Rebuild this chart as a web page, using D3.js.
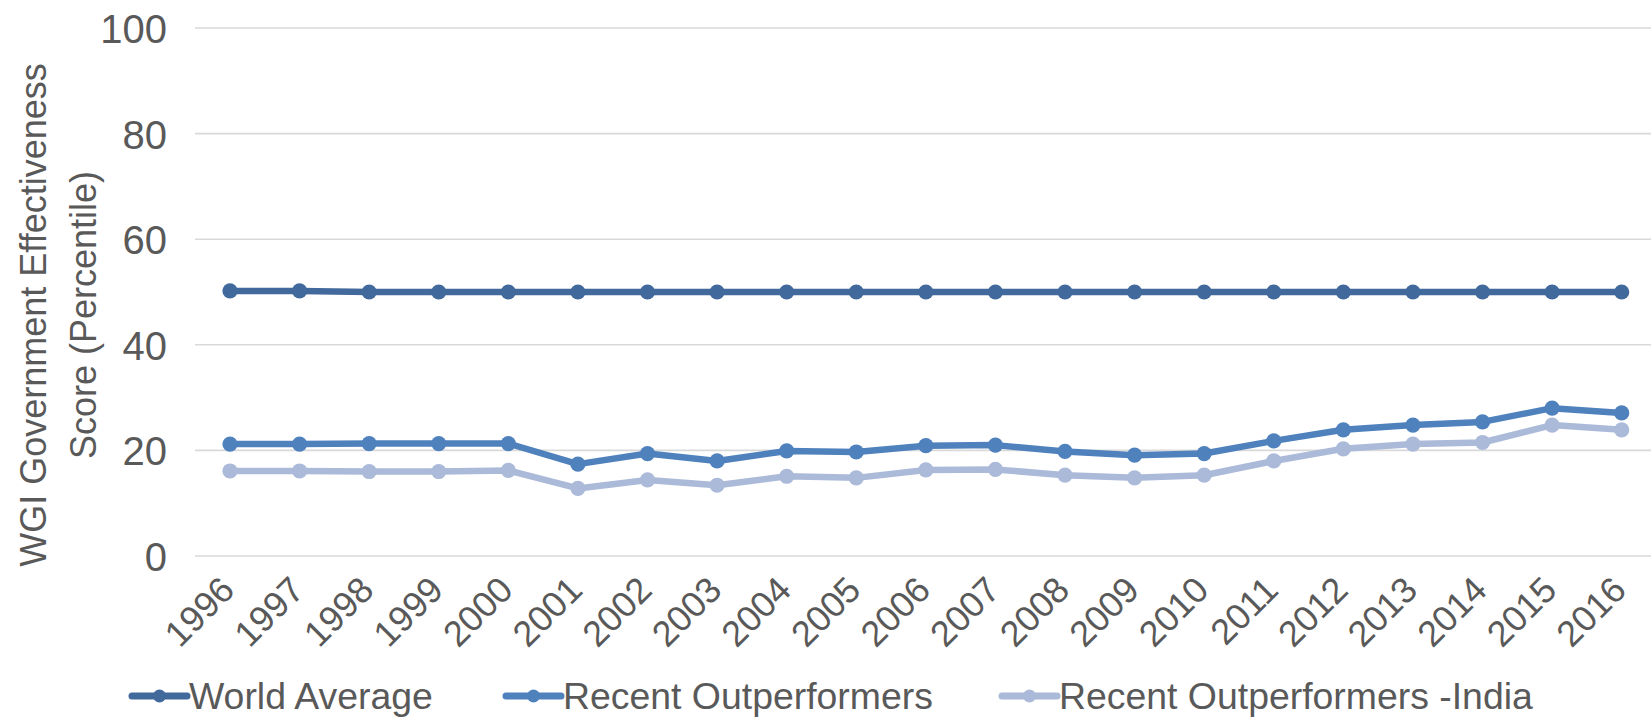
<!DOCTYPE html>
<html>
<head>
<meta charset="utf-8">
<script src="https://cdn.jsdelivr.net/npm/d3@7"></script>
<style>
  html, body { margin: 0; padding: 0; background: #fff; }
  svg { display: block; font-family: "Liberation Sans", Arial, sans-serif; }
</style>
</head>
<body>
<svg id="chart" width="1651" height="717"></svg>
<script>
const years = ["1996","1997","1998","1999","2000","2001","2002","2003","2004","2005","2006","2007","2008","2009","2010","2011","2012","2013","2014","2015","2016"];
const worldAverage = [50.2,50.2,50.0,50.0,50.0,50.0,50.0,50.0,50.0,50.0,50.0,50.0,50.0,50.0,50.0,50.0,50.0,50.0,50.0,50.0,50.0];
const recentOutperformers = [21.2,21.2,21.3,21.3,21.3,17.4,19.4,18.0,19.9,19.7,20.9,21.0,19.8,19.1,19.4,21.8,23.9,24.8,25.4,28.0,27.1];
const recentOutperformersIndia = [16.1,16.1,16.0,16.0,16.2,12.8,14.4,13.4,15.1,14.8,16.3,16.4,15.3,14.8,15.3,18.0,20.3,21.2,21.5,24.8,23.9];
const yTicks = [0,20,40,60,80,100];
const seriesNames = ["World Average","Recent Outperformers","Recent Outperformers -India"];
const yTitleLines = ["WGI Government Effectiveness","Score (Percentile)"];

const series = [
  {name: seriesNames[0], values: worldAverage, color: "#41699c"},
  {name: seriesNames[1], values: recentOutperformers, color: "#4f81bd"},
  {name: seriesNames[2], values: recentOutperformersIndia, color: "#aabad8"}
];

const svg = d3.select("#chart");
const textColor = "#595959";

const x = d3.scalePoint().domain(years).range([230, 1621.7]);
const y = d3.scaleLinear().domain([0, 100]).range([556, 28]);
const gridLeft = 195, gridRight = 1651;

// gridlines
svg.append("g").selectAll("line").data(yTicks).join("line")
  .attr("x1", gridLeft).attr("x2", gridRight)
  .attr("y1", d => y(d)).attr("y2", d => y(d))
  .attr("stroke", "#d9d9d9").attr("stroke-width", 1.6);

// y axis labels
const yAxis = d3.axisLeft(y).tickValues(yTicks).tickSize(0).tickPadding(0);
const gy = svg.append("g").attr("transform", `translate(167,0)`).call(yAxis);
gy.select(".domain").remove();
gy.selectAll("text").attr("fill", textColor).style("font-size", "40px")
  .attr("font-family", "Liberation Sans, Arial, sans-serif").attr("dy", "0.36em");

// x axis labels
const xAxis = d3.axisBottom(x).tickSize(0).tickPadding(0);
const gx = svg.append("g").attr("transform", `translate(0,556)`).call(xAxis);
gx.select(".domain").remove();
gx.selectAll("text")
  .attr("fill", textColor).style("font-size", "36px")
  .attr("font-family", "Liberation Sans, Arial, sans-serif")
  .attr("text-anchor", "end")
  .attr("y", 0).attr("dy", 0)
  .attr("transform", "translate(6,36) rotate(-45)");

// y title
const yt = svg.append("text")
  .attr("transform", `translate(0,315) rotate(-90)`)
  .attr("text-anchor", "middle").attr("fill", textColor)
  .style("font-size", "36px");
yt.selectAll("tspan").data(yTitleLines).join("tspan")
  .attr("x", 0).attr("y", (d, i) => 46 + i * 50)
  .text(d => d);

// lines
const line = d3.line().x((d, i) => x(years[i])).y(d => y(d));
const sg = svg.append("g").selectAll("g").data(series).join("g");
sg.append("path")
  .attr("d", d => line(d.values))
  .attr("fill", "none").attr("stroke", d => d.color)
  .attr("stroke-width", 6.5).attr("stroke-linejoin", "round").attr("stroke-linecap", "round");
sg.selectAll("circle").data(d => d.values.map((v, i) => ({v, i, c: d.color}))).join("circle")
  .attr("cx", d => x(years[d.i])).attr("cy", d => y(d.v))
  .attr("r", 7.6).attr("fill", d => d.c);

// legend
const legendX = [132, 506, 1002];
const legendY = 696;
const lg = svg.append("g").selectAll("g").data(series).join("g")
  .attr("transform", (d, i) => `translate(${legendX[i]},${legendY})`);
lg.append("line").attr("x1", 0).attr("x2", 55).attr("y1", 0).attr("y2", 0)
  .attr("stroke", d => d.color).attr("stroke-width", 7).attr("stroke-linecap", "round");
lg.append("circle").attr("cx", 27.5).attr("cy", 0).attr("r", 6.5).attr("fill", d => d.color);
lg.append("text").attr("x", 57).attr("y", 0).attr("dy", "0.36em")
  .attr("fill", textColor).style("font-size", "37.4px")
  .text(d => d.name);
</script>
</body>
</html>
